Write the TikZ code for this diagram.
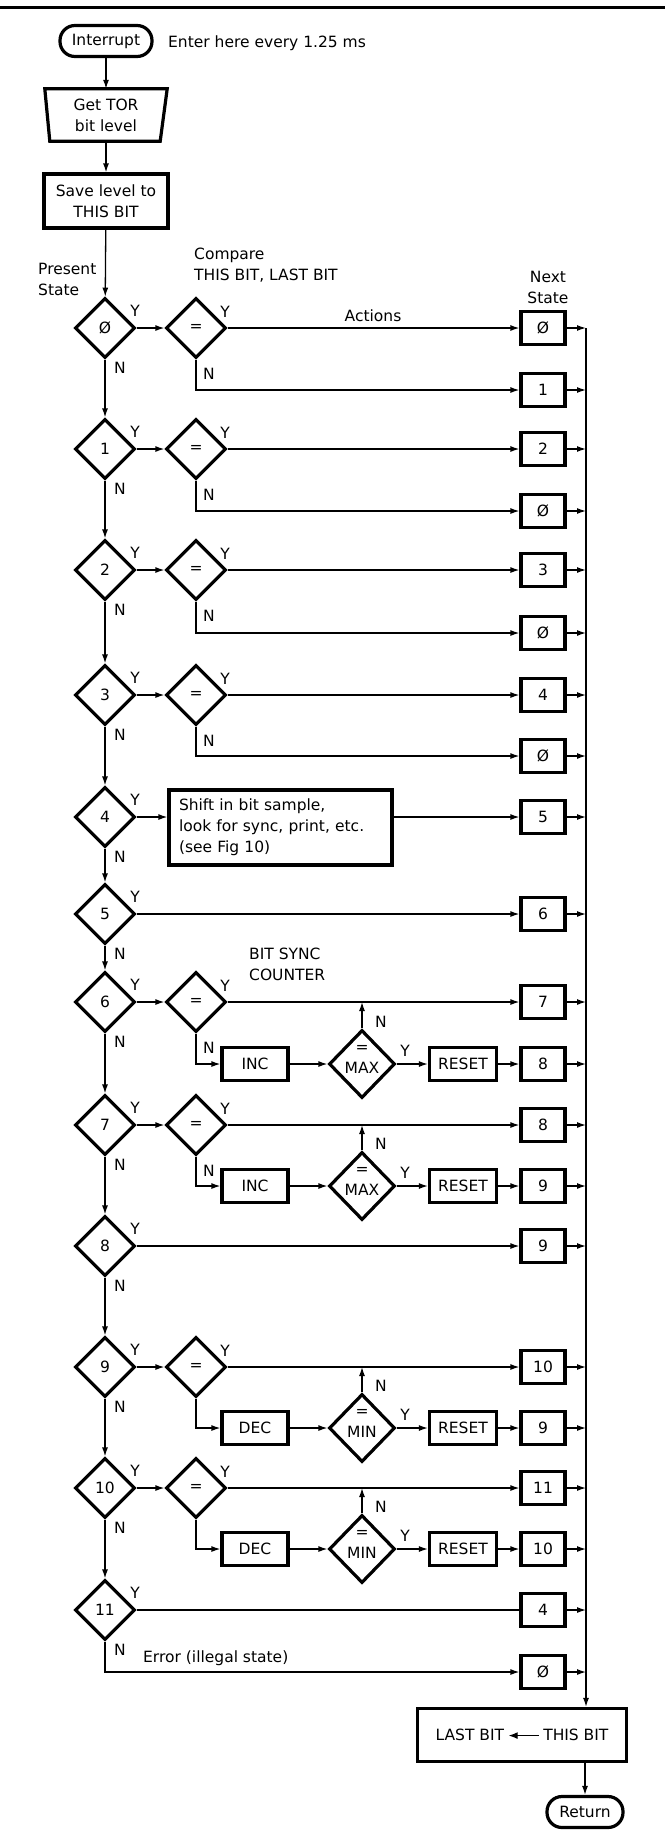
\documentclass[tikz,border=0pt]{standalone}
\usepackage{fontspec}
\setmainfont{DejaVu Sans}
\usetikzlibrary{shapes.geometric,arrows.meta,calc}
\begin{document}
\begin{tikzpicture}[x=1pt,y=-1pt,
  every node/.style={font=\fontsize{15.5}{21}\selectfont, inner sep=0pt},
  conn/.style={line width=1.3pt},
  arr/.style={line width=1.3pt,-{Latex[length=9pt,width=6pt]}},
  dia/.style={diamond,draw,line width=3.2pt,minimum width=60pt,minimum height=60pt},
  bigdia/.style={diamond,draw,line width=3.2pt,minimum width=66pt,minimum height=68pt},
  nbox/.style={rectangle,draw,line width=3.2pt,minimum width=44pt,minimum height=33pt},
  abox/.style={rectangle,draw,line width=3.2pt,minimum width=66pt,minimum height=33pt},
  term/.style={rectangle,draw,line width=3.2pt,rounded corners=15pt,minimum height=31pt}
]
\useasboundingbox (0,0) rectangle (665,1836);
\draw[line width=3pt] (0,8) -- (665,8);

% top part
\node[term,minimum width=92pt] (int) at (106,41) {Interrupt};
\node[anchor=west] (enter) at (168,43) {Enter here every 1.25 ms};
\node[minimum width=122pt,minimum height=52pt,align=center] (tor) at (106,115) {Get TOR\\bit level};
\draw[line width=3.2pt,line join=miter] (tor.north west) -- (tor.north east) -- ($(tor.south east)+(-7,0)$) -- ($(tor.south west)+(5,0)$) -- cycle;
\node[rectangle,draw,line width=3.2pt,minimum width=124pt,minimum height=54pt,align=center] (save) at (106,201) {Save level to\\THIS BIT};

\node[anchor=west,align=left] (present) at (38,279) {Present\\State};
\node[anchor=west,align=left] (compare) at (194,265.5) {Compare\\THIS BIT, LAST BIT};
\node[align=center] (next) at (548,287.5) {Next\\State};
\node (actions) at (373,316) {Actions};
\node[anchor=west,align=left] (bitsync) at (249,964.5) {BIT SYNC\\COUNTER};
\node[anchor=west] (err) at (143,1658) {Error (illegal state)};

\draw[arr] (int) -- (tor);
\draw[arr] (tor) -- (save);

% main diamonds
\foreach \n/\y/\t in {0/328/Ø,1/449/1,2/570/2,3/695/3,4/817/4,5/914/5,6/1002/6,7/1125/7,8/1246/8,9/1367/9,10/1488/10,11/1610/11}{
  \node[dia] (d\n) at (105,\y) {\t};
  \node (dy\n) at (135,\y-17) {Y};
  \node (dn\n) at (120,\y+40) {N};
}
\draw[arr] (save) -- (d0);
\foreach \a/\b in {0/1,1/2,2/3,3/4,4/5,5/6,6/7,7/8,8/9,9/10,10/11}{
  \draw[arr] (d\a) -- (d\b);
}

% next state boxes (Y rows)
\foreach \n/\y/\t in {0/328/Ø,1/449/2,2/570/3,3/695/4,4/817/5,5/914/6,6/1002/7,7/1125/8,8/1246/9,9/1367/10,10/1488/11,11/1610/4}{
  \node[nbox] (b\n) at (543,\y) {\t};
}
% next state boxes (N rows)
\foreach \n/\y/\t in {0/390/1,1/511/Ø,2/633/Ø,3/756/Ø,6/1064/8,7/1186/9,9/1428/9,10/1549/10,11/1672/Ø}{
  \node[nbox] (c\n) at (543,\y) {\t};
}

% compare diamonds
\foreach \n/\y in {0/328,1/449,2/570,3/695,6/1002,7/1125,9/1367,10/1488}{
  \node[dia] (e\n) at (196,\y) {=};
  \node (ey\n) at (225,\y-16) {Y};
  \draw[arr] (d\n) -- (e\n);
  \draw[arr] (e\n) -- (b\n);
}
\foreach \n/\y in {0/328,1/449,2/570,3/695,6/1002,7/1125}{
  \node (en\n) at (209,\y+46) {N};
}
\foreach \n in {0,1,2,3}{
  \draw[arr] (e\n.south) |- (c\n);
}

% state 4 action
\node[rectangle,draw,line width=3.2pt,text width=203pt,inner xsep=10pt,minimum height=75pt,align=left] (shift) at (280.5,827.5) {Shift in bit sample,\\look for sync, print, etc.\\(see Fig 10)};
\draw[arr] (d4) -- (d4 -| shift.west);
\draw[arr] (b4 -| shift.east) -- (b4);

\draw[arr] (d5) -- (b5);
\draw[arr] (d8) -- (b8);
\draw[conn] (d11) -- (b11);
\draw[arr] (d11.south) |- (c11);

% bit sync counter rows
\foreach \n/\y/\opn/\lm in {6/1064/INC/MAX,7/1186/INC/MAX,9/1428/DEC/MIN,10/1549/DEC/MIN}{
  \node[abox] (op\n) at (255,\y) {\opn};
  \node[bigdia,label={[align=center,yshift=5pt]center:{=\\\lm}}] (lim\n) at (362,\y) {};
  \node[abox,minimum width=67pt] (rs\n) at (463,\y) {RESET};
  \coordinate (j\n) at (lim\n.north |- b\n);
  \draw[arr] (e\n.south) |- (op\n);
  \draw[arr] (op\n) -- (lim\n);
  \draw[arr] (lim\n) -- (rs\n);
  \draw[arr] (rs\n) -- (c\n);
  \draw[arr] (lim\n.north) -- (j\n);
  \node (ln\n) at (381,\y-42) {N};
  \node (ly\n) at (405,\y-13) {Y};
}

% return bus
\coordinate (bus) at (586,328);
\node[rectangle,draw,line width=3.2pt,minimum width=209pt,minimum height=53pt] (last) at (522,1735) {LAST BIT\hspace{4pt}\tikz[baseline=-0.6ex]\draw[line width=1.2pt,{Latex[length=9pt,width=7pt]}-] (0pt,0pt) -- (30pt,0pt);\hspace{4pt}THIS BIT};
\node[term,minimum width=76pt] (ret) at (585,1812) {Return};
\foreach \n in {0,1,2,3,4,5,6,7,8,9,10,11}{
  \draw[arr] (b\n.east) -- (b\n.east -| bus);
}
\foreach \n in {0,1,2,3,6,7,9,10,11}{
  \draw[arr] (c\n.east) -- (c\n.east -| bus);
}
\draw[arr] (bus) -- (bus |- last.north);
\draw[arr] (last.south -| ret) -- (ret.north);
\end{tikzpicture}
\end{document}
